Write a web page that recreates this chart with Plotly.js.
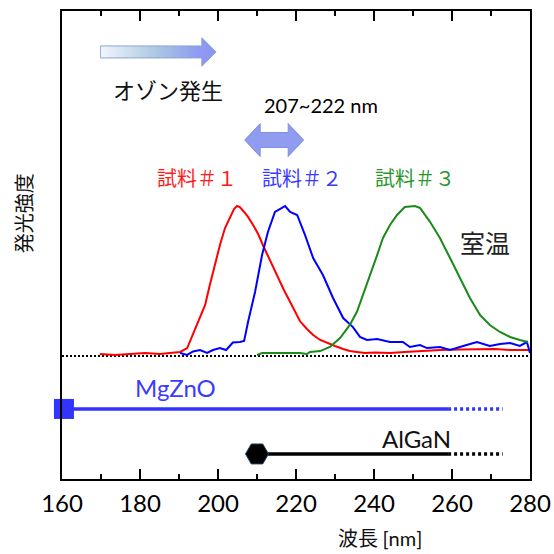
<!DOCTYPE html>
<html>
<head>
<meta charset="utf-8">
<script src="https://cdn.plot.ly/plotly-3.0.1.min.js"></script>
<style>html,body{margin:0;padding:0;background:#fff;}#chart{width:554px;height:554px;}</style>
</head>
<body>
<div id="chart"></div>
<script>
// ---- data (wavelength nm, normalized intensity) ----
const sample1Wl = [169.7,173.6,177.4,181.3,185.1,188.2,190.3,192.1,194.1,195.4,196.7,197.9,199.2,200.5,201.8,203.1,204.1,204.9,205.6,206.7,207.7,209.0,210.3,211.5,213.3,215.1,216.9,218.5,221.0,222.8,224.4,226.2,228.0,230.0,232.1,233.8,235.6,237.7,240.3,244.1,247.9,251.8,256.9,262.1,266.4,271.0,274.9,280.0];
const sample1I  = [0.013,0.007,0.013,0.02,0.013,0.02,0.027,0.053,0.173,0.253,0.34,0.473,0.607,0.74,0.853,0.927,0.98,1.0,0.993,0.96,0.927,0.873,0.813,0.74,0.64,0.533,0.44,0.36,0.233,0.18,0.14,0.107,0.087,0.067,0.047,0.033,0.027,0.02,0.023,0.02,0.027,0.033,0.04,0.043,0.047,0.047,0.04,0.04];

const sample2Wl = [190.3,192.1,193.6,195.4,197.2,198.7,200.5,202.1,203.8,205.6,206.7,207.7,209.5,211.3,212.8,214.6,216.4,217.2,218.5,220.3,222.3,224.4,226.9,229.5,232.1,234.6,236.4,238.2,240.8,244.1,247.4,249.2,251.8,253.6,256.9,259.5,263.3,266.4,269.7,272.3,274.9,277.4,279.2,280.0];
const sample2I  = [0.02,0.007,0.03,0.04,0.02,0.04,0.053,0.04,0.09,0.093,0.10,0.227,0.427,0.673,0.827,0.96,0.987,1.0,0.96,0.94,0.807,0.653,0.54,0.387,0.253,0.193,0.127,0.107,0.113,0.093,0.093,0.06,0.073,0.053,0.06,0.04,0.07,0.093,0.067,0.08,0.087,0.067,0.093,0.02];

const sample3Wl = [210.0,211.3,216.0,221.0,222.8,223.6,226.2,228.7,231.3,233.8,235.6,237.2,239.0,240.8,242.3,244.1,245.9,247.9,250.5,251.8,254.4,256.9,259.5,262.1,264.6,267.2,269.7,272.3,274.9,277.4,279.5];
const sample3I  = [0.007,0.02,0.02,0.02,0.013,0.027,0.033,0.06,0.12,0.207,0.293,0.407,0.54,0.673,0.787,0.873,0.94,0.993,1.0,0.987,0.893,0.787,0.653,0.52,0.387,0.273,0.207,0.16,0.127,0.107,0.093];

// material ranges: [start, solid end, dotted end]
const mgznoRange = [160.5, 259, 273];
const alganRange = [210, 259, 273];
const mgznoLevel = -0.353;
const alganLevel = -0.653;

const baselineX = [160, 280];
const baselineY = [0, 0];

const xTickVals = [160,180,200,220,240,260,280];

// ---- traces ----
const traces = [
  {x: baselineX, y: baselineY, mode:'lines', line:{color:'#000', width:2, dash:'2px,2px'}, hoverinfo:'skip'},
  {x: sample1Wl, y: sample1I, mode:'lines', line:{color:'#ff0000', width:2}},
  {x: sample2Wl, y: sample2I, mode:'lines', line:{color:'#0000ff', width:2}},
  {x: sample3Wl, y: sample3I, mode:'lines', line:{color:'#1a8a1a', width:2}},
  {x: [mgznoRange[1], mgznoRange[2]], y:[mgznoLevel, mgznoLevel], mode:'lines', line:{color:'#3333ff', width:3.5, dash:'3px,3px'}},
  {x: [mgznoRange[0], mgznoRange[1]], y:[mgznoLevel, mgznoLevel], mode:'lines', line:{color:'#3333ff', width:3.5}},
  {x: [mgznoRange[0]], y:[mgznoLevel], mode:'markers', marker:{symbol:'square', size:20, color:'#3333ff'}, cliponaxis:false},
  {x: [alganRange[1], alganRange[2]], y:[alganLevel, alganLevel], mode:'lines', line:{color:'#000', width:3.5, dash:'3px,3px'}},
  {x: [alganRange[0], alganRange[1]], y:[alganLevel, alganLevel], mode:'lines', line:{color:'#000', width:3.5}},
  {x: [alganRange[0]], y:[alganLevel], mode:'markers', marker:{symbol:'hexagon2', size:23, color:'#000', line:{color:'#1f3f5f', width:1}}, cliponaxis:false}
];

// decorative arrows as SVG images
const gradArrow = '<svg xmlns="http://www.w3.org/2000/svg" width="117" height="30" viewBox="0 0 117 30" preserveAspectRatio="none">' +
  '<defs><linearGradient id="g" x1="0" y1="0" x2="1" y2="0">' +
  '<stop offset="0" stop-color="#f2f6fb"/><stop offset="0.5" stop-color="#a9c6e2"/><stop offset="0.85" stop-color="#8f9af2"/><stop offset="1" stop-color="#8c95f4"/></linearGradient></defs>' +
  '<path d="M0.5,9 L102,9 L102,0.8 L116.3,15 L102,29.2 L102,21 L0.5,21 Z" fill="url(#g)" stroke="#8aa6cf" stroke-width="1"/></svg>';
const dblArrow = '<svg xmlns="http://www.w3.org/2000/svg" width="60" height="34" viewBox="0 0 60 34" preserveAspectRatio="none">' +
  '<path d="M0.7,17 L16,0.8 L16,9.5 L44,9.5 L44,0.8 L59.3,17 L44,33.2 L44,24.5 L16,24.5 L16,33.2 Z" fill="#8f9cf0" stroke="#8290e0" stroke-width="1"/></svg>';
const svgUri = s => 'data:image/svg+xml;charset=utf-8,' + encodeURIComponent(s);

const jp = '"Noto Sans CJK JP", "Noto Sans", sans-serif';
const lat = 'Lato, "Noto Sans", sans-serif';

const layout = {
  width: 554, height: 554,
  margin: {l:62, r:24, t:11, b:75},
  paper_bgcolor:'#fff', plot_bgcolor:'#fff',
  showlegend: false,
  xaxis: {
    range:[160,280], tickvals: xTickVals, ticks:'inside', ticklen:10, tickwidth:1.5, tickcolor:'#000',
    showline:true, linecolor:'#000', linewidth:2, mirror:'ticks', showgrid:false, zeroline:false,
    minor:{ticks:'inside', ticklen:5, tickwidth:1.5, tickcolor:'#000', dtick:10, showgrid:false},
    tickfont:{family: lat, size:24, color:'#000'}, ticklabelstandoff:2, fixedrange:true
  },
  yaxis: {
    range:[-0.82, 2.3], showticklabels:false, ticks:'', showgrid:false, zeroline:false,
    showline:true, linecolor:'#000', linewidth:2, mirror:true, fixedrange:true
  },
  images: [
    {source: svgUri(gradArrow), xref:'x', yref:'y', x:169.7, y:2.127, sizex:30, sizey:0.2, sizing:'stretch', xanchor:'left', yanchor:'top', layer:'above'},
    {source: svgUri(dblArrow), xref:'x', yref:'y', x:206.7, y:1.553, sizex:15.4, sizey:0.227, sizing:'stretch', xanchor:'left', yanchor:'top', layer:'above'}
  ],
  annotations: [
    {text:'オゾン発生', x:187.2, y:1.78, xref:'x', yref:'y', showarrow:false, font:{family:jp, size:22, color:'#111'}},
    {text:'207~222 nm', x:226.4, y:1.673, xref:'x', yref:'y', showarrow:false, font:{family:lat, size:20, color:'#000'}},
    {text:'試料＃１', x:194.6, y:1.187, xref:'x', yref:'y', showarrow:false, font:{family:jp, size:20, color:'#ff1a1a'}},
    {text:'試料＃２', x:221.5, y:1.187, xref:'x', yref:'y', showarrow:false, font:{family:jp, size:20, color:'#3b3bff'}},
    {text:'試料＃３', x:250.6, y:1.187, xref:'x', yref:'y', showarrow:false, font:{family:jp, size:20, color:'#2a962a'}},
    {text:'室温', x:268.5, y:0.76, xref:'x', yref:'y', showarrow:false, font:{family:jp, size:25, color:'#222'}},
    {text:'MgZnO', x:189, y:-0.213, xref:'x', yref:'y', showarrow:false, font:{family:lat, size:24, color:'#3b3bff'}},
    {text:'AlGaN', x:251, y:-0.553, xref:'x', yref:'y', showarrow:false, font:{family:lat, size:24, color:'#111'}},
    {text:'発光強度', x:-0.083, y:0.568, xref:'paper', yref:'paper', xanchor:'center', yanchor:'middle', showarrow:false, textangle:-90, font:{family:jp, size:20, color:'#111'}},
    {text:'波長 <span style="font-family:Lato;font-size:20px">[nm]</span>', x:0.679, y:-0.126, xref:'paper', yref:'paper', xanchor:'center', yanchor:'middle', showarrow:false, borderpad:0, font:{family:jp, size:20, color:'#111'}}
  ]
};

Plotly.newPlot('chart', traces, layout, {staticPlot:true, displayModeBar:false});
</script>
</body>
</html>
